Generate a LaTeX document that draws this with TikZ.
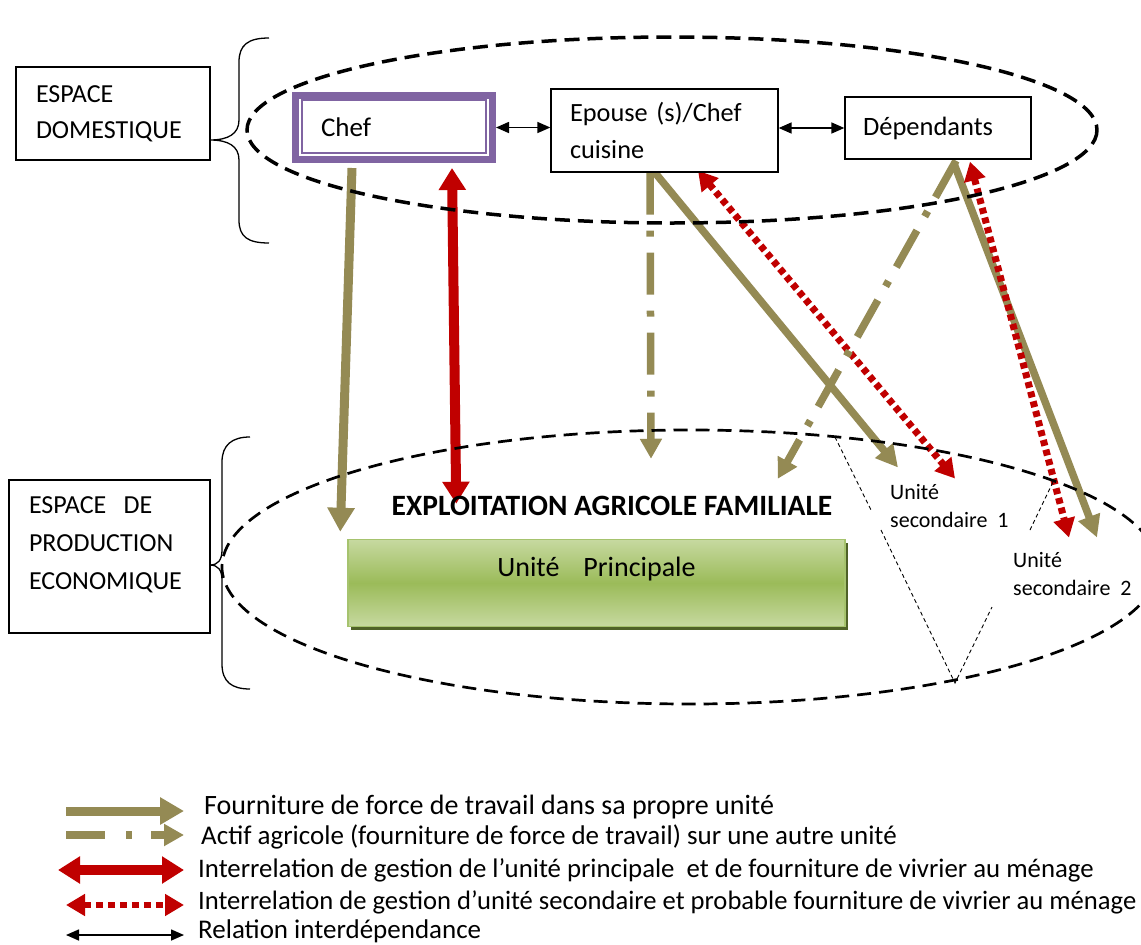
\documentclass[tikz,border=0pt]{standalone}
\usepackage{fontspec}
\setmainfont{Carlito}
\usetikzlibrary{arrows.meta,shadows,calc}
\definecolor{olv}{HTML}{948A54}
\definecolor{rd}{HTML}{C00000}
\definecolor{prp}{HTML}{8064A2}
\definecolor{grn}{HTML}{9BBB59}
\definecolor{grnl}{HTML}{C6D9A0}
\definecolor{grnb}{HTML}{A6C36E}
\definecolor{grnd}{HTML}{4F6228}
\pgfdeclarelayer{bg}
\pgfdeclarelayer{mid}
\pgfsetlayers{bg,mid,main}
\tikzset{
  box/.style={draw=black, line width=1.3pt, fill=white, inner sep=0pt},
  big/.style={font=\fontsize{26}{36}\selectfont},
  ell/.style={draw=black, line width=3.5pt, dash pattern=on 15pt off 8pt},
  ellb/.style={draw=black, line width=2.7pt, dash pattern=on 14pt off 8pt},
  bracestyle/.style={draw=black, line width=1.3pt},
  own/.style={draw=olv, line width=9pt, -{Triangle[width=26pt,length=24pt]}},
  ownthin/.style={draw=olv, line width=7.5pt, -{Triangle[width=22pt,length=22pt]}},
  other/.style={draw=olv, line width=7.5pt, dash pattern=on 42pt off 16pt on 6pt off 16pt, -{Triangle[width=21pt,length=20pt]}},
  mgmt/.style={draw=rd, line width=10pt, {Triangle[width=26pt,length=22pt]}-{Triangle[width=26pt,length=22pt]}},
  sec/.style={draw=rd, line width=7pt, dash pattern=on 6pt off 4pt, {Triangle[width=21pt,length=19pt]}-{Triangle[width=21pt,length=19pt]}},
  rel/.style={draw=black, line width=1.6pt, {Triangle[width=11pt,length=13pt]}-{Triangle[width=11pt,length=13pt]}},
  thindash/.style={draw=black, line width=0.9pt, dash pattern=on 4pt off 3pt},
  legtxt/.style={anchor=base west, inner sep=0pt, font=\fontsize{27}{32}\selectfont},
  smalltxt/.style={anchor=north west, inner sep=0pt, align=left, font=\fontsize{22}{28}\selectfont},
}
\begin{document}
\begin{tikzpicture}[x=1pt,y=-1pt]
\path[use as bounding box] (0,0) rectangle (1141,945);
\clip (0,0) rectangle (1141,945);

% ---------- nodes ----------
\node[box, big, minimum width=194pt, minimum height=93pt, text width=154pt, align=left] (espdom) at (113,113.5) {ESPACE\\DOMESTIQUE};
\node[box, font=\fontsize{26}{38}\selectfont, minimum width=201pt, minimum height=153pt, text width=161pt, align=left] (espprod) at (109.5,556.5) {ESPACE~~DE\\PRODUCTION\\ECONOMIQUE\rule[-26pt]{0pt}{1pt}};

\node[draw=prp, line width=7pt, fill=white, inner sep=0pt, minimum width=197pt, minimum height=64pt, text width=146pt, align=left, font=\fontsize{27}{32}\selectfont] (chef) at (394,127.5) {Chef};
\draw[prp, line width=1.5pt] (302,100) rectangle (486,153);

\node[box, font=\fontsize{26.3}{37}\selectfont, minimum width=227pt, minimum height=83pt, text width=189pt, align=left] (epouse) at (664.5,130.5) {Epouse (s)/Chef\\cuisine};
\node[box, font=\fontsize{26.5}{36}\selectfont, minimum width=186pt, minimum height=62pt, text width=150pt, align=left] (dep) at (938,128) {Dépendants};

\node[draw=grnb, line width=1.5pt, top color=grnl, bottom color=grnl, middle color=grn,
      minimum width=497pt, minimum height=87pt, inner sep=0pt,
      drop shadow={shadow xshift=3pt, shadow yshift=-3pt, fill=grnd, opacity=1},
      font=\fontsize{28}{33}\selectfont] (up) at (596.5,583) {Unité\hspace{24pt}Principale\rule[-33pt]{0pt}{1pt}};

\node[anchor=base, inner sep=0pt, font=\bfseries\fontsize{29.5}{35}\selectfont] (expl) at (612,515) {EXPLOITATION AGRICOLE FAMILIALE};

\node[smalltxt] (us1) at (890,484.5) {Unité\\secondaire~~1};
\node[smalltxt] (us2) at (1013,552.5) {Unité\\secondaire~~2};

% interdependence arrows
\draw[rel] (chef.east) -- (epouse.west |- chef.east);
\draw[rel] (epouse.east |- dep.west) -- (dep.west);

% braces
\draw[bracestyle] (269,38) .. controls (248,38) and (239,45) .. (239,62) -- (239,120)
  .. controls (239,134) and (228,140) .. (210,140)
  .. controls (228,140) and (239,146) .. (239,160) -- (239,220)
  .. controls (239,237) and (248,243) .. (269,243);
\draw[bracestyle] (250,437) .. controls (232,437) and (222,445) .. (222,462) -- (222,550)
  .. controls (222,560) and (218,565) .. (210,565)
  .. controls (218,565) and (222,570) .. (222,580) -- (222,664)
  .. controls (222,682) and (232,689) .. (250,689);

% ---------- connectors ----------
\begin{pgfonlayer}{bg}
\coordinate (a1s) at ($(chef.south)+(-42,5)$);
\coordinate (a1e) at ($(up.north west)+(-7,-7)$);
\coordinate (a2s) at ($(chef.south)+(58,5)$);
\coordinate (a2e) at ($(up.north west)+(109,-35)$);
\coordinate (a3s) at ($(epouse.south)+(-14.5,0)$);
\coordinate (a3e) at ($(up.north)+(54.5,-80)$);
\coordinate (a4s) at ($(epouse.south)+(-12,-3)$);
\coordinate (a4e) at ($(us1.north west)+(8,-17)$);
\coordinate (a5s) at ($(epouse.south)+(33.5,-2)$);
\coordinate (a5e) at ($(us1.north west)+(65,-6)$);
\coordinate (a6s) at ($(dep.south)+(18,1)$);
\coordinate (a6e) at ($(up.north east)+(-68,-60)$);
\coordinate (a7s) at ($(dep.south)+(16,4)$);
\coordinate (a7e) at ($(us2.north west)+(84,-15)$);
\coordinate (a8s) at ($(dep.south)+(32,2)$);
\coordinate (a8e) at ($(us2.north west)+(56,-15)$);
\draw[own] (a1s) -- (a1e);
\draw[mgmt] (a2s) -- (a2e);
\draw[other] (a3s) -- (a3e);
\draw[ownthin] (a4s) -- (a4e);
\draw[sec] (a5s) -- (a5e);
\draw[other] (a6s) -- (a6e);
\draw[ownthin] (a7s) -- (a7e);
\draw[sec] (a8s) -- (a8e);
\end{pgfonlayer}

% ---------- ellipses and thin dashed lines ----------
\begin{pgfonlayer}{mid}
\draw[ell] (672,130) ellipse [x radius=425, y radius=93];
\draw[ellb] (690,567) ellipse [x radius=468, y radius=137];
\draw[thindash] (835,437) -- (871,510);
\draw[thindash] (881,530) -- (955,683) -- (992,607);
\draw[thindash] (1030,530) -- (1053,482);
\end{pgfonlayer}

% ---------- legend ----------
\coordinate (l1a) at (66,811);  \coordinate (l1b) at (184,811);
\coordinate (l2a) at (66,835);  \coordinate (l2b) at (184,835);
\coordinate (l3a) at (58,870);  \coordinate (l3b) at (184,870);
\coordinate (l4a) at (66,905);  \coordinate (l4b) at (184,905);
\coordinate (l5a) at (66,935);  \coordinate (l5b) at (184,935);
\draw[own] (l1a) -- (l1b);
\draw[other, dash pattern=on 39pt off 21pt on 6pt off 19pt] (l2a) -- (l2b);
\draw[mgmt] (l3a) -- (l3b);
\draw[sec, line width=6pt, dash pattern=on 7pt off 5pt] (l4a) -- (l4b);
\draw[rel] (l5a) -- (l5b);
\node[legtxt, font=\fontsize{28}{32}\selectfont] (t1) at (204,814) {Fourniture de force de travail dans sa propre unité};
\node[legtxt] (t2) at (201,844) {Actif agricole (fourniture de force de travail) sur une autre unité};
\node[legtxt, font=\fontsize{26.8}{32}\selectfont] (t3) at (198,877) {Interrelation de gestion de l’unité principale\ \ et de fourniture de vivrier au ménage};
\node[legtxt, font=\fontsize{26.6}{32}\selectfont] (t4) at (198,909) {Interrelation de gestion d’unité secondaire et probable fourniture de vivrier au ménage};
\node[legtxt] (t5) at (198,938) {Relation interdépendance};
\end{tikzpicture}
\end{document}
